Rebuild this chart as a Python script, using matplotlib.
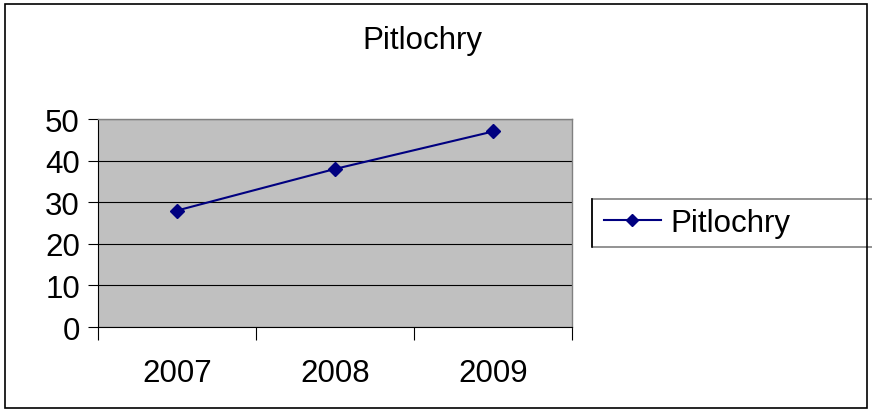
"""Pitlochry line chart."""

import matplotlib
matplotlib.use("Agg")
import matplotlib.pyplot as plt
from matplotlib.lines import Line2D
from matplotlib.patches import Rectangle

years = ["2007", "2008", "2009"]
values = [28, 38, 47]
series_name = "Pitlochry"

plt.rcParams.update({
    "font.family": ["Liberation Sans", "DejaVu Sans"],
    "font.size": 22.5,
})

fig = plt.figure(figsize=(8.72, 4.14), dpi=100)
ax = fig.add_axes([0.1124, 0.2077, 0.5436, 0.5024])
ax.set_facecolor("#C0C0C0")

x = list(range(len(years)))
ax.plot(x, values, color="#000080", linewidth=1.5, marker="D", markersize=7,
        label=series_name)

ax.set_ylim(0, 50)
ax.set_yticks(range(0, 51, 10))
ax.yaxis.grid(True, color="black", linewidth=0.8)
ax.set_axisbelow(True)

ax.set_xlim(-0.5, len(years) - 0.5)
ax.set_xticks([i - 0.5 for i in range(len(years) + 1)])
ax.set_xticklabels([])
ax.set_xticks(x, minor=True)
ax.set_xticklabels(years, minor=True)
ax.tick_params(axis="x", which="major", length=9, width=0.8, color="black")
ax.tick_params(axis="x", which="minor", length=0, pad=22)
ax.tick_params(axis="y", length=7, width=0.8, pad=6)

for side in ["top", "right"]:
    ax.spines[side].set_color("#808080")
    ax.spines[side].set_linewidth(1)
ax.spines["left"].set_color("black")
ax.spines["bottom"].set_color("black")

fig.text(0.484, 0.9, series_name, ha="center", va="center")

# legend box runs past the right edge of the figure, as in the original
leg_x0, leg_y0, leg_h = 0.679, 0.401, 0.116
fig.patches.append(Rectangle((leg_x0, leg_y0), 0.4, leg_h, transform=fig.transFigure,
                             fill=False, edgecolor="#808080", linewidth=1.2))
fig.lines.append(Line2D([leg_x0, leg_x0], [leg_y0, leg_y0 + leg_h],
                        transform=fig.transFigure, color="black", linewidth=1.2))
ax.legend(loc="center left", bbox_to_anchor=(0.693, leg_y0 + leg_h / 2),
          bbox_transform=fig.transFigure, frameon=False,
          handlelength=1.8, borderpad=0.0, handletextpad=0.3,
          borderaxespad=0, markerscale=0.85)

fig.patches.append(Rectangle((0.006, 0.012), 0.988, 0.976, transform=fig.transFigure,
                             fill=False, edgecolor="black", linewidth=1.2))

fig.savefig("out.png", dpi=100)
